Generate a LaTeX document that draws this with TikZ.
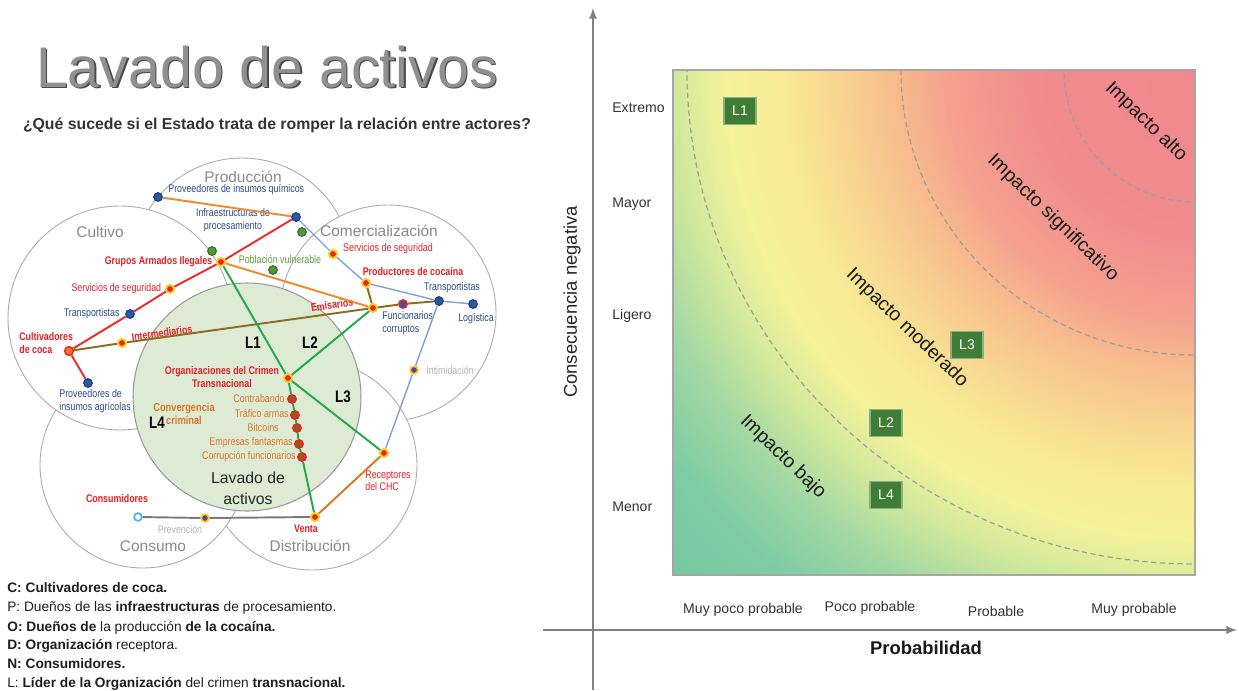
\documentclass[tikz,border=0pt]{standalone}
\usepackage{fontspec}
\setmainfont{Liberation Sans}
\newfontfamily\vennfont[FakeStretch=0.8]{Liberation Sans}
\usetikzlibrary{positioning}
\usetikzlibrary{arrows}

\definecolor{zonegray}{HTML}{ABABAB}
\definecolor{zonetext}{HTML}{8A8A8A}
\definecolor{corefill}{HTML}{DDEBD4}
\definecolor{navytext}{HTML}{2B4A8A}
\definecolor{redtext}{HTML}{E31E24}
\definecolor{greentext}{HTML}{5E9E3C}
\definecolor{orangetext}{HTML}{E07426}
\definecolor{fainttext}{HTML}{B4B4B4}
\definecolor{dotblue}{HTML}{2C56A8}
\definecolor{dotred}{HTML}{E8242A}
\definecolor{dotyellow}{HTML}{F4CF1C}
\definecolor{dotgreen}{HTML}{4E9A38}
\definecolor{dotbrown}{HTML}{8A5E22}
\definecolor{dotpurple}{HTML}{6A3C9C}
\definecolor{dotsky}{HTML}{52B4E4}
\definecolor{dotorange}{HTML}{F07A22}
\definecolor{lineorange}{HTML}{F08A30}
\definecolor{linered}{HTML}{EE2A2A}
\definecolor{linebrown}{HTML}{8C6C1E}
\definecolor{lineblue}{HTML}{7FA0DA}
\definecolor{linegreen}{HTML}{24A84C}
\definecolor{linegray}{HTML}{7A7A7A}
\definecolor{axisgray}{HTML}{808080}
\definecolor{boxgreen}{HTML}{3F7C36}
\definecolor{titlegray}{HTML}{909090}
\definecolor{titleshade}{HTML}{4A4A4A}
\definecolor{rk0}{HTML}{F0888E}
\definecolor{rk1}{HTML}{F18D8E}
\definecolor{rk2}{HTML}{F4A28F}
\definecolor{rk3}{HTML}{F7BE8D}
\definecolor{rk4}{HTML}{F8D891}
\definecolor{rk5}{HTML}{F8EC96}
\definecolor{rk6}{HTML}{F4F29A}
\definecolor{rk7}{HTML}{D2E99C}
\definecolor{rk8}{HTML}{A3D8A3}
\definecolor{rk9}{HTML}{7FCCA4}
\definecolor{rk10}{HTML}{76C8A2}

% inner 25bp of the shading is what covers the path
\pgfdeclareradialshading{riskfade}{\pgfpointorigin}{color(0bp)=(rk0); color(5.8bp)=(rk1); color(8.6bp)=(rk2); color(10.4bp)=(rk3); color(12.5bp)=(rk4); color(14.4bp)=(rk5); color(16.1bp)=(rk6); color(17.8bp)=(rk7); color(19.85bp)=(rk8); color(22.25bp)=(rk9); color(25bp)=(rk10); color(50bp)=(rk10)}

\begin{document}
\begin{tikzpicture}[x=0.02cm, y=-0.02cm,
zone/.style={draw=zonegray, fill=white, line width=0.5pt},
core/.style={draw=gray!80, fill=corefill, line width=0.6pt},
zonelbl/.style={font=\fontsize{8.8}{10}\selectfont, text=zonetext, inner sep=0pt},
corelbl/.style={font=\fontsize{9}{12}\selectfont, text=black!85, align=center, inner sep=0pt},
dot/.style={circle, inner sep=0pt, minimum size=5pt, line width=0.5pt},
bluedot/.style={dot, fill=dotblue, draw=dotblue!60!black},
hotdot/.style={dot, fill=dotred, draw=dotyellow, line width=1.1pt, minimum size=4.6pt},
greendot/.style={dot, fill=dotgreen, draw=dotgreen!60!black},
chaindot/.style={dot, fill=dotbrown, draw=dotred, line width=1pt, minimum size=4.6pt},
purpledot/.style={dot, fill=dotpurple, draw=dotyellow, line width=1pt, minimum size=4.4pt},
opendot/.style={dot, fill=white, draw=dotsky, line width=1pt, minimum size=4.4pt},
cocadot/.style={dot, fill=dotorange, draw=dotred, line width=0.8pt},
funcdot/.style={dot, fill=dotblue, draw=dotred, line width=1pt, minimum size=4.6pt},
vtxt/.style={font=\vennfont\fontsize{6.3}{7}\selectfont, inner sep=0pt, align=center},
bluetxt/.style={vtxt, text=navytext},
redtxt/.style={vtxt, text=redtext},
redbold/.style={vtxt, text=redtext, font=\vennfont\bfseries\fontsize{6.3}{7}\selectfont},
greentxt/.style={vtxt, text=greentext},
orangetxt/.style={vtxt, text=orangetext},
orangebold/.style={vtxt, text=orangetext, font=\vennfont\bfseries\fontsize{6.6}{7.6}\selectfont},
fainttxt/.style={vtxt, text=fainttext},
ltag/.style={font=\vennfont\bfseries\fontsize{9.5}{10}\selectfont, inner sep=0pt},
ln/.style={line width=1.1pt},
lnred/.style={ln, draw=linered},
lnorange/.style={ln, draw=lineorange},
lnbrown/.style={ln, draw=linebrown},
lnblue/.style={line width=0.8pt, draw=lineblue},
lngreen/.style={ln, draw=linegreen},
lngray/.style={ln, draw=linegray},
titletxt/.style={font=\fontsize{32.6}{36}\selectfont, inner sep=0pt, anchor=base},
legtxt/.style={font=\fontsize{7.8}{9}\selectfont, text=black!88, inner sep=0pt, anchor=base west},
axisln/.style={draw=axisgray, line width=1.1pt, -latex},
riskarc/.style={draw=gray!75, line width=0.7pt, dash pattern=on 3pt off 2pt},
lbox/.style={fill=boxgreen, draw=boxgreen!60!white, line width=0.6pt, text=white, font=\fontsize{8}{9}\selectfont, minimum width=0.64cm, minimum height=0.54cm, inner sep=0pt},
scaletxt/.style={font=\fontsize{8}{9}\selectfont, text=black!80, inner sep=0pt},
impacttxt/.style={font=\fontsize{11}{12}\selectfont, text=black!90, inner sep=0pt, rotate=-44},
]
\useasboundingbox (0,0) rectangle (1239,690);
\fill[white] (0,0) rectangle (1239,690);

%Title
\node[titletxt, text=titleshade] (titleshadow) at (268.5,88.5) {Lavado de activos};
\node[titletxt, text=titlegray] (title) at (267,87) {Lavado de activos};
\node[font=\bfseries\fontsize{9}{10}\selectfont, text=black!80, inner sep=0pt, anchor=base] (question) at (277,129) {¿Qué sucede si el Estado trata de romper la relación entre actores?};

%Zones
\filldraw[zone] (242,268) circle (110);
\filldraw[zone] (388,313) circle (108);
\filldraw[zone] (312,465) circle (105);
\filldraw[zone] (143,465) circle (103);
\filldraw[zone] (120,318) circle (112);
\filldraw[core] (247,397) circle (114);

\node[zonelbl] (prodlbl) at (243,177) {Producción};
\node[zonelbl] (cultlbl) at (100,232) {Cultivo};
\node[zonelbl] (comlbl)  at (379,231) {Comercialización};
\node[zonelbl] (conslbl) at (153,546) {Consumo};
\node[zonelbl] (distlbl) at (310,546) {Distribución};
\node[corelbl] (corelbl) at (248,488) {Lavado de\\activos};

%Actors
\node[bluedot]   (provq)   at (158,197) {};
\node[bluedot]   (infra)   at (296,217) {};
\node[greendot]  (gprod)   at (302,232) {};
\node[greendot]  (gcult)   at (212,251) {};
\node[hotdot]    (grupos)  at (221,262) {};
\node[greendot]  (pobl)    at (273,270) {};
\node[hotdot]    (servcu)  at (170,289) {};
\node[bluedot]   (transcu) at (130,314) {};
\node[cocadot]   (cultiv)  at (69,351) {};
\node[hotdot]    (interm)  at (122,343) {};
\node[bluedot]   (provag)  at (88,383) {};
\node[hotdot]    (servco)  at (333,254) {};
\node[hotdot]    (produc)  at (366,283) {};
\node[hotdot]    (emis)    at (373,308) {};
\node[funcdot]   (func)    at (403,304) {};
\node[bluedot]   (transco) at (439,301) {};
\node[bluedot]   (logist)  at (473,304) {};
\node[purpledot] (intim)   at (414,370) {};
\node[hotdot]    (orgcr)   at (288,378) {};
\node[chaindot]  (contra)  at (292,399) {};
\node[chaindot]  (trafico) at (295,415) {};
\node[chaindot]  (bitc)    at (297,428) {};
\node[chaindot]  (empre)   at (299,444) {};
\node[chaindot]  (corrup)  at (302,457) {};
\node[hotdot]    (recep)   at (384,453) {};
\node[hotdot]    (venta)   at (315,517) {};
\node[opendot]   (consum)  at (138,517) {};
\node[purpledot] (prev)    at (205,518) {};

%Actor labels
\node[bluetxt, anchor=west] (provqtxt) at (168,190) {Proveedores de insumos químicos};
\node[bluetxt] (infratxt) at (233,220) {Infraestructuras de\\procesamiento};
\node[redbold, left=2pt of grupos] (grupostxt) {Grupos Armados Ilegales};
\node[greentxt] (pobltxt) at (280,259) {Población vulnerable};
\node[redtxt, left=2pt of servcu] (servcutxt) {Servicios de seguridad};
\node[bluetxt, left=3pt of transcu] (transcutxt) {Transportistas};
\node[redbold, align=left, anchor=west] (cultivtxt) at (19,343) {Cultivadores\\de coca};
\node[redbold, rotate=8] (intermtxt) at (162,333) {Intermediarios};
\node[bluetxt, align=left, anchor=west] (provagtxt) at (59,401) {Proveedores de\\insumos agrícolas};
\node[redtxt] (servcotxt) at (388,249) {Servicios de seguridad};
\node[redbold] (productxt) at (413,271) {Productores de cocaína};
\node[redbold, rotate=8] (emistxt) at (332,305) {Emisarios};
\node[bluetxt, align=left, anchor=west] (functxt) at (382,323) {Funcionarios\\corruptos};
\node[bluetxt] (transcotxt) at (452,288) {Transportistas};
\node[bluetxt] (logisttxt) at (476,319) {Logística};
\node[fainttxt] (intimtxt) at (450,370) {Intimidación};
\node[redbold] (orgcrtxt) at (222,377) {Organizaciones del Crimen\\Transnacional};
\node[orangetxt, anchor=east] (contratxt) at (285,399) {Contrabando};
\node[orangetxt, anchor=east] (traficotxt) at (289,413) {Tráfico armas};
\node[orangetxt, anchor=east] (bitctxt) at (279,428) {Bitcoins};
\node[orangetxt, anchor=east] (empretxt) at (293,443) {Empresas fantasmas};
\node[orangetxt, anchor=east] (corruptxt) at (296,457) {Corrupción funcionarios};
\node[orangebold] (convtxt) at (184,414) {Convergencia\\criminal};
\node[redtxt, align=left, anchor=west] (receptxt) at (365,481) {Receptores\\del CHC};
\node[redbold] (ventatxt) at (306,529) {Venta};
\node[redbold] (consumtxt) at (117,499) {Consumidores};
\node[fainttxt] (prevtxt) at (180,529) {Prevención};

\node[ltag] (tagone)   at (253,343) {L1};
\node[ltag] (tagtwo)   at (310,343) {L2};
\node[ltag] (tagthree) at (343,397) {L3};
\node[ltag] (tagfour)  at (157,423) {L4};

%Lines
\draw[lnorange] (provq) -- (infra);
\draw[lnred] (cultiv) -- (transcu) -- (servcu) -- (grupos) -- (infra);
\draw[lnred] (cultiv) -- (provag);
\draw[lnbrown] (cultiv) -- (interm) -- (emis) -- (func) -- (transco);
\draw[lnbrown] (produc) -- (emis);
\draw[lnorange] (grupos) -- (emis);
\draw[lnblue] (infra) -- (servco) -- (produc) -- (transco) -- (logist);
\draw[lnblue] (transco) -- (intim) -- (recep);
\draw[lngreen] (grupos) -- (orgcr);
\draw[lngreen] (orgcr) -- (emis);
\draw[lngreen] (orgcr) -- (recep);
\draw[lngreen] (orgcr) -- (contra) -- (trafico) -- (bitc) -- (empre) -- (corrup) -- (venta);
\draw[ln, draw=orangetext] (recep) -- (venta);
\draw[lngray] (consum) -- (prev) -- (venta);

%Legend
\node[legtxt] (legc) at (7,592) {\textbf{C: Cultivadores de coca.}};
\node[legtxt] (legp) at (7,611) {P: Dueños de las \textbf{infraestructuras} de procesamiento.};
\node[legtxt] (lego) at (7,631) {\textbf{O: Dueños de} la producción \textbf{de la cocaína.}};
\node[legtxt] (legd) at (7,649) {\textbf{D: Organización} receptora.};
\node[legtxt] (legn) at (7,668) {\textbf{N: Consumidores.}};
\node[legtxt] (legl) at (7,687) {L: \textbf{Líder de la Organización} del crimen \textbf{transnacional.}};

%Risk matrix
\begin{scope}
\clip (673,70) rectangle (1195,575);
\shade[shading=riskfade] (1195,70) circle (730);
\draw[riskarc] (1195,70) ellipse [x radius=131, y radius=132];
\draw[riskarc] (1195,70) ellipse [x radius=294, y radius=285];
\draw[riskarc] (1195,70) ellipse [x radius=508, y radius=494];
\end{scope}
\draw[gray!70, line width=0.6pt] (673,70) rectangle (1195,575);

\coordinate (ybot) at (593,690);
\coordinate (ytop) at (593,8);
\coordinate (xleft) at (543,630);
\coordinate (xright) at (1237,630);
\draw[axisln] (ybot) -- (ytop);
\draw[axisln] (xleft) -- (xright);

\node[impacttxt] (highlbl) at (1146,122) {Impacto alto};
\node[impacttxt] (signlbl) at (1053,218) {Impacto significativo};
\node[impacttxt] (modlbl)  at (907,328) {Impacto moderado};
\node[impacttxt] (lowlbl)  at (783,457) {Impacto bajo};

\node[lbox] (boxone)   at (740,111) {L1};
\node[lbox] (boxthree) at (967,345) {L3};
\node[lbox] (boxtwo)   at (886,423) {L2};
\node[lbox] (boxfour)  at (886,495) {L4};

\node[scaletxt, anchor=west] (yext) at (612,108) {Extremo};
\node[scaletxt, anchor=west] (ymay) at (612,204) {Mayor};
\node[scaletxt, anchor=west] (ylig) at (612,316) {Ligero};
\node[scaletxt, anchor=west] (ymen) at (612,507) {Menor};
\node[scaletxt] (xmpp) at (743,610) {Muy poco probable};
\node[scaletxt] (xpp)  at (870,608) {Poco probable};
\node[scaletxt] (xp)   at (996,611) {Probable};
\node[scaletxt] (xmp)  at (1134,610) {Muy probable};
\node[font=\fontsize{10.5}{12}\selectfont, text=black!85, rotate=90, inner sep=0pt] (yname) at (572,302) {Consecuencia negativa};
\node[font=\bfseries\fontsize{10.5}{12}\selectfont, text=black!90, inner sep=0pt] (xname) at (926,648) {Probabilidad};
\end{tikzpicture}
\end{document}
